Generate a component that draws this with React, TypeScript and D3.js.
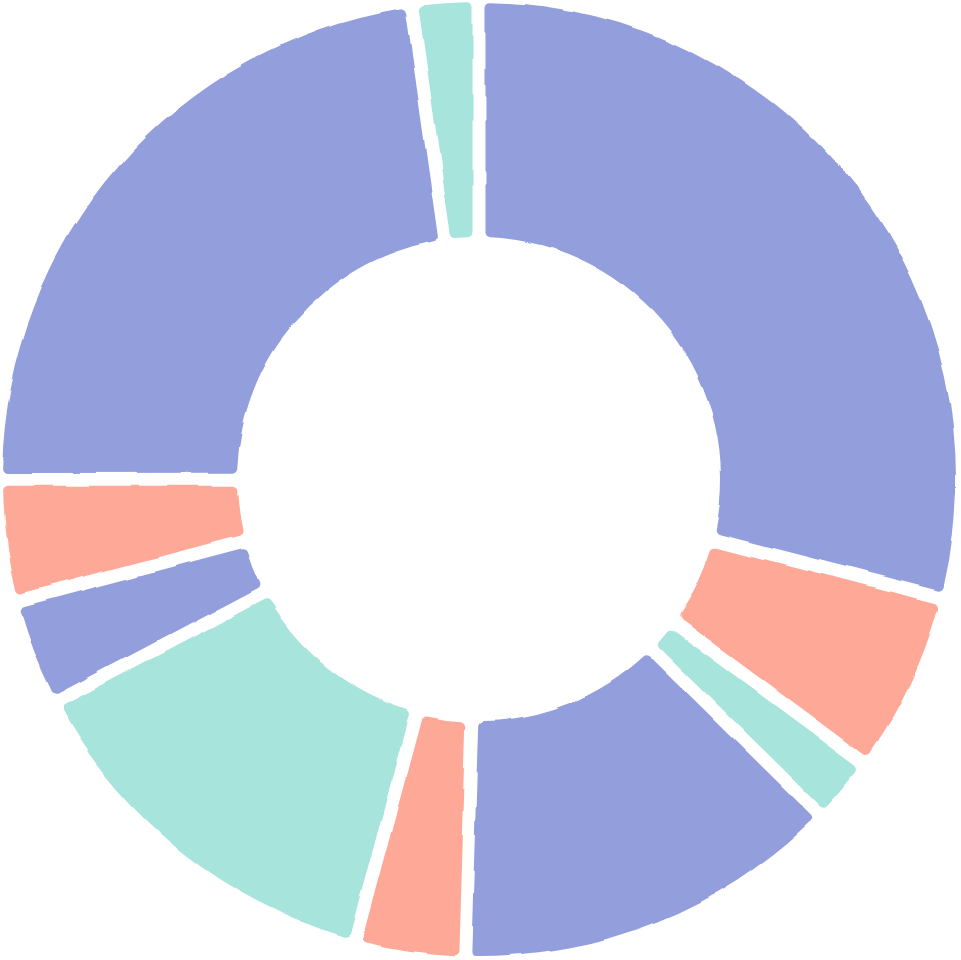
import React, { useRef, useEffect } from "react";
import * as d3 from "d3";

// slice shares, clockwise from 12 o'clock
const labels = ["A", "B", "C", "D", "E", "F", "G", "H", "I", "J"];
const values = [29.0, 6.1, 2.25, 13.1, 3.7, 13.1, 3.6, 4.1, 22.75, 2.25];
const groups = ["purple", "salmon", "teal", "purple", "salmon", "teal", "purple", "salmon", "purple", "teal"];
const palette: any = { purple: "#939edd", salmon: "#fea998", teal: "#a7e4dc" };

const DonutChart = () => {
    const svgRef = useRef(null);

    useEffect(() => {
        const width = 961;
        const height = 960;
        const cx = 479;
        const cy = 479;

        const svg = d3.select(svgRef.current).attr("width", width).attr("height", height);
        svg.selectAll("*").remove();

        // slight hand-drawn wobble on the edges
        const defs = svg.append("defs");
        const filter = defs.append("filter").attr("id", "rough").attr("x", "-5%").attr("y", "-5%").attr("width", "110%").attr("height", "110%");
        filter.append("feTurbulence").attr("type", "fractalNoise").attr("baseFrequency", 0.018).attr("numOctaves", 2).attr("seed", 3).attr("result", "noise");
        filter.append("feDisplacementMap").attr("in", "SourceGraphic").attr("in2", "noise").attr("scale", 6).attr("xChannelSelector", "R").attr("yChannelSelector", "G");

        const data = labels.map((l, i) => ({ label: l, value: values[i], group: groups[i] }));

        const pie = d3.pie<any>().value((d: any) => d.value).sort(null);
        const arc = d3.arc<any>().innerRadius(242).outerRadius(477).padAngle(0.027).padRadius(480).cornerRadius(5);

        const g = svg.append("g").attr("transform", `translate(${cx},${cy})`).attr("filter", "url(#rough)");

        g.selectAll("path")
            .data(pie(data))
            .enter()
            .append("path")
            .attr("d", arc)
            .attr("fill", (d: any) => palette[d.data.group]);
    }, []);

    return <svg ref={svgRef} style={{ position: "absolute", left: 0, top: 0, display: "block" }}></svg>;
};

export default function App() {
    return <DonutChart />;
}
